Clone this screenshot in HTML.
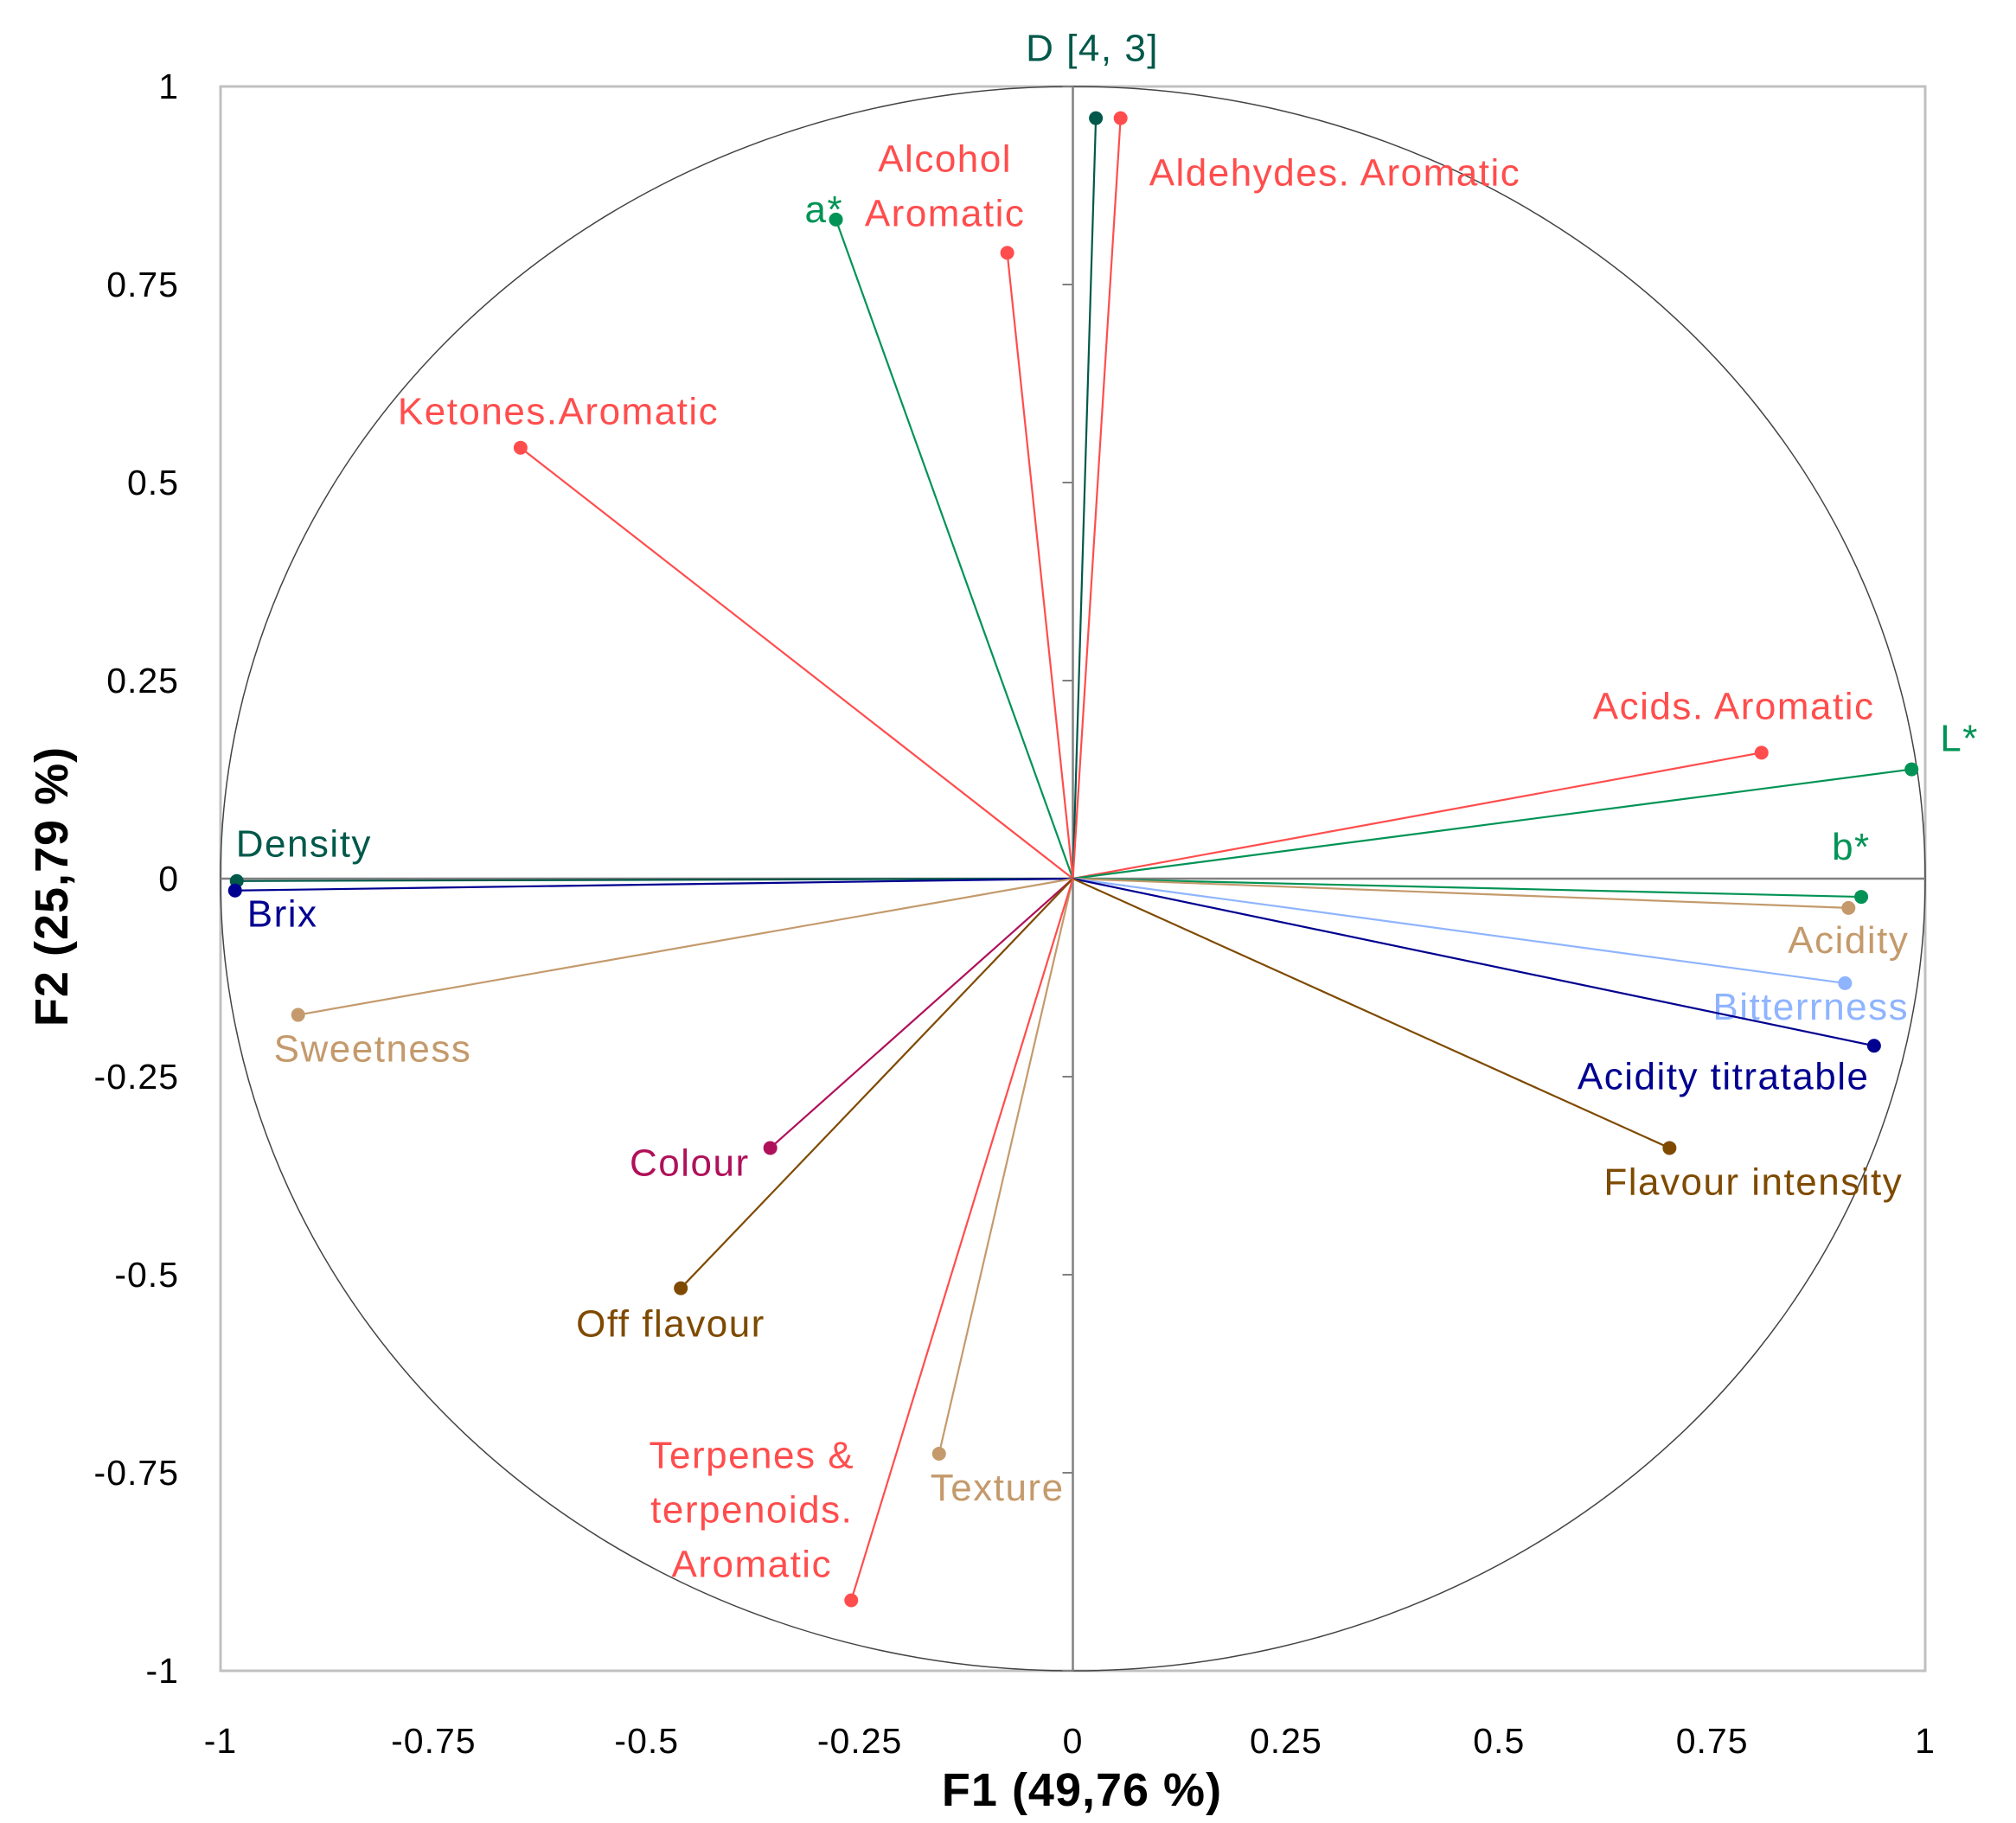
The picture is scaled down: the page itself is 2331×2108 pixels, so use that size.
<!DOCTYPE html>
<html><head><meta charset="utf-8"><style>
html,body{margin:0;padding:0;background:#fff;}
svg{display:block;font-family:"Liberation Sans",sans-serif;}
</style></head><body>
<svg id="chart" width="2331" height="2108" viewBox="0 0 2331 2108" xmlns="http://www.w3.org/2000/svg">
<rect x="255" y="100" width="1971" height="1832" fill="none" stroke="#c0c0c0" stroke-width="3"/>
<g id="axes"></g>
<g id="vecs"></g>
<text x="1251" y="2088" text-anchor="middle" font-size="54" font-weight="bold" letter-spacing="1" fill="#000">F1 (49,76 %)</text>
<text transform="translate(78,1025) rotate(-90)" text-anchor="middle" font-size="54" font-weight="bold" letter-spacing="1" fill="#000">F2 (25,79 %)</text>
</svg>
<script>
const names = ["D [4, 3]","Aldehydes. Aromatic","a*","Alcohol|Aromatic","Ketones.Aromatic","Acids. Aromatic","L*","b*","Density","Brix","Acidity","Bitterrness","Acidity titratable","Flavour intensity","Sweetness","Colour","Off flavour","Texture","Terpenes &|terpenoids.|Aromatic"];
const f1 = [0.027,0.056,-0.278,-0.077,-0.648,0.808,0.984,0.925,-0.981,-0.983,0.910,0.906,0.940,0.700,-0.909,-0.355,-0.460,-0.157,-0.260];
const f2 = [0.960,0.960,0.832,0.790,0.544,0.159,0.138,-0.023,-0.003,-0.015,-0.037,-0.132,-0.211,-0.340,-0.172,-0.340,-0.517,-0.726,-0.911];
const tickVals = [-1,-0.75,-0.5,-0.25,0,0.25,0.5,0.75,1];
const tickLabels = ["-1","-0.75","-0.5","-0.25","0","0.25","0.5","0.75","1"];

const colors = ["#00594a","#ff4d4d","#009355","#ff4d4d","#ff4d4d","#ff4d4d","#009355","#009355","#00594a","#000090","#c49a6c","#8fb4ff","#000090","#7f4a00","#c49a6c","#b0105a","#7f4a00","#c49a6c","#ff4d4d"];
const lblOff = [[-4,-66,"middle"],[33,78,"start"],[-36,3,"start"],[-72,-94,"middle"],[-142,-27,"start"],[-195,-39,"start"],[33,-21,"start"],[-34,-43,"start"],[-1,-28,"start"],[14,42,"start"],[-70,52,"start"],[-153,42,"start"],[-343,50,"start"],[-76,54,"start"],[-28,54,"start"],[-24,32,"end"],[-121,56,"start"],[-10,54,"start"],[-115,-153,"middle"]];

const X0=255,X1=2226,Y0=100,Y1=1932;
const sx=v=>X0+(v+1)/2*(X1-X0);
const sy=v=>Y1-(v+1)/2*(Y1-Y0);
const NS="http://www.w3.org/2000/svg";
function mk(tag,attrs,parent){const e=document.createElementNS(NS,tag);for(const k in attrs)e.setAttribute(k,attrs[k]);parent.appendChild(e);return e;}
const axes=document.getElementById('axes'), vecs=document.getElementById('vecs');

let c=mk('ellipse',{cx:sx(0),cy:sy(0),rx:sx(1)-sx(0),ry:sy(0)-sy(1),fill:'none',stroke:'#444',"stroke-width":1.5},axes);


let l=mk('line',{x1:X0,x2:X1,y1:sy(0),y2:sy(0),stroke:'#808080',"stroke-width":2.5},axes);


l=mk('line',{x1:sx(0),x2:sx(0),y1:Y0,y2:Y1,stroke:'#808080',"stroke-width":2.5},axes);


tickVals.forEach((v,i)=>{
  let t=mk('line',{x1:sx(0)-12,x2:sx(0),y1:sy(v),y2:sy(v),stroke:'#808080',"stroke-width":2},axes);
  
  
  let yl=mk('text',{x:207,y:sy(v)+14,"text-anchor":"end","font-size":41,"letter-spacing":1,fill:'#000'},axes);
  yl.textContent=tickLabels[i];
  
  
  let xl=mk('text',{x:sx(v),y:2027,"text-anchor":"middle","font-size":41,"letter-spacing":1,fill:'#000'},axes);
  xl.textContent=tickLabels[i];
  
  
});
names.forEach((n,i)=>{
  const px=sx(f1[i]),py=sy(f2[i]);
  let ln=mk('line',{x1:sx(0),y1:sy(0),x2:px,y2:py,stroke:colors[i],"stroke-width":2.2},vecs);
  
  
  let pt=mk('circle',{cx:px,cy:py,r:8,fill:colors[i]},vecs);
  
  
  const o=lblOff[i];
  const lines=n.split('|');
  lines.forEach((s,k)=>{
    let tx=mk('text',{x:px+o[0],y:py+o[1]+k*63,"text-anchor":o[2],"font-size":44,"letter-spacing":1.5,fill:colors[i]},vecs);
    tx.textContent=s;
    
    
  });
});
</script>
</body></html>
